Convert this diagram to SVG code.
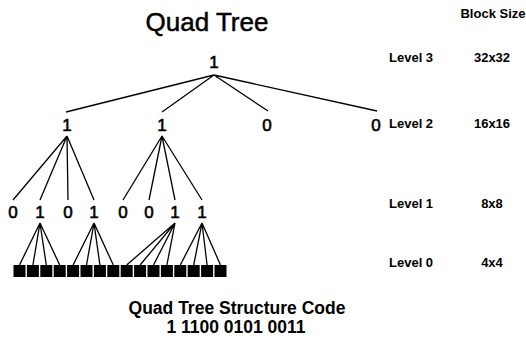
<svg xmlns="http://www.w3.org/2000/svg" width="526" height="345" viewBox="0 0 526 345">
  <style>
    text { font-family: "Liberation Sans", Arial, sans-serif; fill: #000; }
    .title { font-size: 26px; text-anchor: middle; stroke: #000; stroke-width: 0.5; }
    .digit { font-size: 17px; text-anchor: middle; stroke: #000; stroke-width: 0.6; }
    .lvl { font-size: 13px; font-weight: bold; }
    .size { font-size: 13px; font-weight: bold; text-anchor: middle; }
    .code { font-size: 17.5px; font-weight: bold; text-anchor: middle; }
    .edge { stroke: #000; stroke-width: 1.3; fill: none; }
    .leaf { fill: #000; }
  </style>

  <text class="title" x="207" y="31">Quad Tree</text>
  <text class="size" x="493" y="18">Block Size</text>

  <!-- level / block size column -->
  <g id="legend">
    <text class="lvl" x="389" y="62">Level 3</text>
    <text class="size" x="492" y="62">32x32</text>
    <text class="lvl" x="389" y="128">Level 2</text>
    <text class="size" x="492" y="128">16x16</text>
    <text class="lvl" x="389" y="208">Level 1</text>
    <text class="size" x="492" y="208">8x8</text>
    <text class="lvl" x="389" y="267">Level 0</text>
    <text class="size" x="492" y="267">4x4</text>
  </g>

  <!-- connectors -->
  <g id="edges" class="edge">
    <!-- root to level 2 -->
    <path d="M214 75 L66 112 M214 75 L162 112 M214 75 L268 111 M214 75 L377 111"/>
    <!-- level 2 to level 1 -->
    <path d="M67 136 L13 200 M67 136 L40 200 M67 136 L68 200 M67 136 L94 200"/>
    <path d="M162 136 L123 200 M162 136 L149 200 M162 136 L175 200 M162 136 L202 200"/>
    <!-- level 1 to level 0 -->
    <path d="M40 223 L19.5 265 M40 223 L32.9 265 M40 223 L46.3 265 M40 223 L59.7 265"/>
    <path d="M94 223 L73.1 265 M94 223 L86.5 265 M94 223 L99.9 265 M94 223 L113.3 265"/>
    <path d="M175 223 L126.7 265 M175 223 L140.1 265 M175 223 L153.5 265 M175 223 L166.9 265"/>
    <path d="M202 223 L180.3 265 M202 223 L193.7 265 M202 223 L207.1 265 M202 223 L220.5 265"/>
  </g>

  <!-- level 3 -->
  <g id="n-root"><text class="digit" x="214" y="68">1</text></g>

  <!-- level 2 -->
  <g id="n-a"><text class="digit" x="67" y="131">1</text></g>
  <g id="n-b"><text class="digit" x="162" y="131">1</text></g>
  <g id="n-c"><text class="digit" x="267" y="131">0</text></g>
  <g id="n-d"><text class="digit" x="376" y="131">0</text></g>

  <!-- level 1 -->
  <g id="n-a0"><text class="digit" x="13" y="218">0</text></g>
  <g id="n-a1"><text class="digit" x="40" y="218">1</text></g>
  <g id="n-a2"><text class="digit" x="68" y="218">0</text></g>
  <g id="n-a3"><text class="digit" x="94" y="218">1</text></g>
  <g id="n-b0"><text class="digit" x="123" y="218">0</text></g>
  <g id="n-b1"><text class="digit" x="149" y="218">0</text></g>
  <g id="n-b2"><text class="digit" x="175" y="218">1</text></g>
  <g id="n-b3"><text class="digit" x="202" y="218">1</text></g>

  <!-- level 0 blocks -->
  <g id="leaves" class="leaf">
    <rect x="13.5" y="265" width="12" height="12"/>
    <rect x="26.9" y="265" width="12" height="12"/>
    <rect x="40.3" y="265" width="12" height="12"/>
    <rect x="53.7" y="265" width="12" height="12"/>
    <rect x="67.1" y="265" width="12" height="12"/>
    <rect x="80.5" y="265" width="12" height="12"/>
    <rect x="93.9" y="265" width="12" height="12"/>
    <rect x="107.3" y="265" width="12" height="12"/>
    <rect x="120.7" y="265" width="12" height="12"/>
    <rect x="134.1" y="265" width="12" height="12"/>
    <rect x="147.5" y="265" width="12" height="12"/>
    <rect x="160.9" y="265" width="12" height="12"/>
    <rect x="174.3" y="265" width="12" height="12"/>
    <rect x="187.7" y="265" width="12" height="12"/>
    <rect x="201.1" y="265" width="12" height="12"/>
    <rect x="214.5" y="265" width="12" height="12"/>
  </g>

  <text class="code" x="237" y="314">Quad Tree Structure Code</text>
  <text class="code" x="236" y="333">1 1100 0101 0011</text>
</svg>
